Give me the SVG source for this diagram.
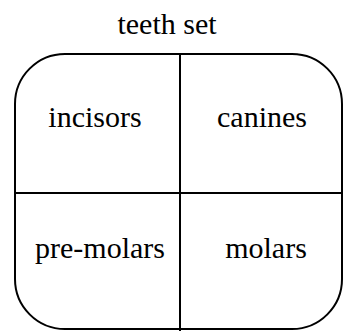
<svg xmlns="http://www.w3.org/2000/svg" width="345" height="331" viewBox="0 0 345 331">
<style>
.t{font-family:"Liberation Serif","Times New Roman",serif;font-size:30px;fill:#000;text-anchor:middle}
.l{fill:none;stroke:#000;stroke-width:2}
</style>
<rect width="345" height="331" fill="#fff"/>
<g id="title"><text class="t" x="167" y="34">teeth set</text></g>
<g id="frame"><rect class="l" x="15" y="54" width="327" height="275" rx="50" ry="50"/></g>
<g id="connectors">
<line class="l" x1="180" y1="54" x2="180" y2="331"/>
<line class="l" x1="15" y1="193" x2="342" y2="193"/>
</g>
<g id="incisors"><text class="t" x="95" y="127">incisors</text></g>
<g id="canines"><text class="t" x="262" y="127">canines</text></g>
<g id="pre-molars"><text class="t" x="100" y="258">pre-molars</text></g>
<g id="molars"><text class="t" x="266" y="258">molars</text></g>
</svg>
